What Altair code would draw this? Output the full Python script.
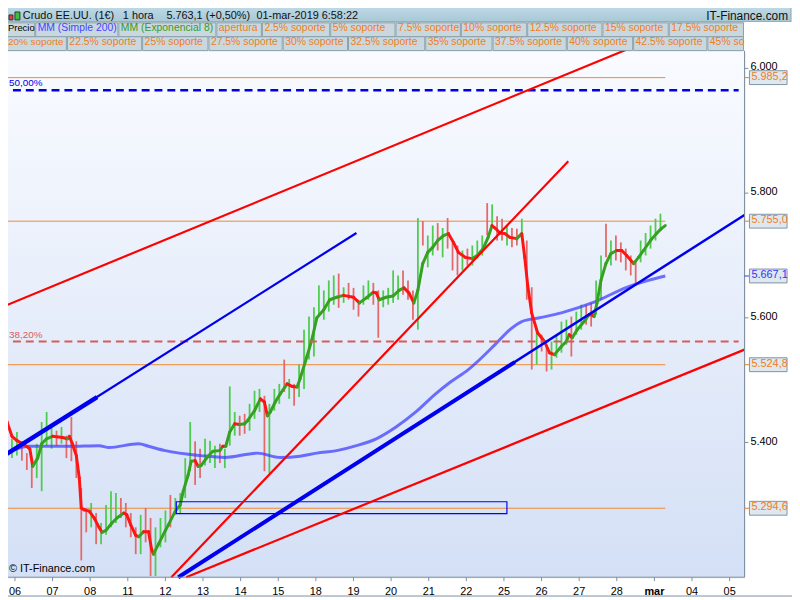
import altair as alt
import pandas as pd

FONT = "Liberation Sans"
AX = "#7d8fa0"

# ---------------- data ----------------
day_labels = ["06", "07", "08", "11", "12", "13", "14", "15", "18", "19", "20",
              "21", "22", "25", "26", "27", "28", "mar", "04", "05"]
price_ticks = [5400, 5600, 5800, 6000]
x_domain = [-0.395, 19.395]
y_domain = [5184, 6027]

# EMA(8) path (t in trading days from the 06 session, price)
ema_t = [-0.395, -0.211, -0.079, 0.053, 0.211, 0.395, 0.474, 0.605, 0.711, 0.842, 1.0, 1.263, 1.395, 1.447, 1.526,
         1.632, 1.711, 1.763, 1.842, 1.974, 2.105, 2.237, 2.316, 2.421, 2.579, 2.711, 2.895, 2.974, 3.079, 3.211,
         3.289, 3.421, 3.553, 3.632, 3.684, 3.816, 4.0, 4.079, 4.263, 4.395, 4.474, 4.605, 4.684, 4.789, 4.868,
         4.947, 5.132, 5.263, 5.447, 5.526, 5.605, 5.711, 5.842, 5.974, 6.105, 6.184, 6.368, 6.526, 6.632, 6.711,
         6.789, 6.921, 7.053, 7.237, 7.368, 7.5, 7.579, 7.763, 7.895, 8.026, 8.211, 8.368, 8.553, 8.737, 9.0,
         9.158, 9.342, 9.526, 9.605, 9.684, 9.868, 10.053, 10.211, 10.342, 10.474, 10.605, 10.711, 10.842, 10.974,
         11.105, 11.237, 11.395, 11.526, 11.658, 11.789, 11.974, 12.158, 12.289, 12.447, 12.579, 12.684, 12.763,
         12.895, 13.026, 13.158, 13.342, 13.474, 13.553, 13.632, 13.737, 13.895, 14.079, 14.211, 14.342, 14.526,
         14.658, 14.737, 14.816, 14.947, 15.132, 15.263, 15.342, 15.395, 15.474, 15.579, 15.711, 15.842, 16.0,
         16.132, 16.263, 16.447, 16.579, 16.711, 16.895, 17.053, 17.184, 17.289]
ema_p = [5465, 5433, 5410, 5403, 5398, 5390, 5362, 5375, 5398, 5406, 5410, 5408, 5406, 5410, 5398,
         5379, 5343, 5295, 5292, 5290, 5279, 5264, 5256, 5259, 5271, 5279, 5287, 5284, 5268, 5251,
         5249, 5257, 5257, 5229, 5221, 5237, 5259, 5268, 5290, 5300, 5322, 5348, 5370, 5371, 5362,
         5363, 5378, 5386, 5387, 5394, 5394, 5417, 5430, 5429, 5430, 5435, 5451, 5470, 5465, 5443,
         5449, 5465, 5478, 5494, 5490, 5489, 5502, 5538, 5565, 5600, 5613, 5629, 5633, 5636, 5633,
         5624, 5632, 5641, 5640, 5629, 5633, 5635, 5644, 5648, 5640, 5624, 5644, 5687, 5705,
         5713, 5724, 5732, 5735, 5721, 5705, 5697, 5695, 5700, 5711, 5729, 5748, 5744,
         5736, 5735, 5729, 5727, 5735, 5697, 5652, 5608, 5576, 5562, 5544, 5541, 5554,
         5562, 5573, 5568, 5581, 5594, 5605, 5605, 5602, 5624, 5660, 5687, 5703, 5708,
         5708, 5700, 5687, 5697, 5708, 5724, 5735, 5743, 5748]

# SMA(200)
sma_t = [-0.395, 0.395, 1.447, 2.237, 2.5, 3.289, 3.553, 4.0, 4.947, 5.579, 6.447, 7.053, 7.579, 8.026, 8.553,
         9.079, 9.605, 10.132, 10.658, 11.184, 11.579, 12.053, 12.763, 13.158, 13.474, 13.947, 14.526, 15.395,
         16.263, 16.842, 17.289]
sma_p = [5378, 5394, 5394, 5395, 5392, 5398, 5394, 5387, 5379, 5376, 5383, 5376, 5378, 5383, 5387,
         5395, 5406, 5425, 5449, 5478, 5497, 5517, 5557, 5581, 5594, 5600, 5608, 5625,
         5649, 5660, 5667.1]

# price bars (evenly spaced)
candle_t0 = -0.342
candle_dt = 0.1316
candle_high = [5465, 5422, 5406, 5417, 5402, 5383, 5375, 5398, 5433, 5449,
               5430, 5419, 5425, 5411, 5441, 5402, 5327, 5295, 5303, 5287,
               5271, 5300, 5322, 5319, 5311, 5303, 5287, 5264, 5284, 5295,
               5279, 5264, 5279, 5291, 5316, 5311, 5319, 5375, 5433, 5402,
               5390, 5406, 5403, 5395, 5398, 5390, 5490, 5449, 5443, 5446,
               5462, 5483, 5486, 5475, 5462, 5486, 5494, 5533, 5502, 5494,
               5525, 5581, 5602, 5617, 5652, 5644, 5660, 5668, 5671, 5649,
               5656, 5648, 5629, 5652, 5660, 5656, 5644, 5644, 5648, 5676,
               5668, 5676, 5660, 5644, 5760, 5755, 5732, 5748, 5752, 5744,
               5760, 5724, 5716, 5708, 5711, 5716, 5724, 5732, 5784, 5782,
               5763, 5759, 5748, 5744, 5743, 5759, 5724, 5649, 5581, 5573,
               5557, 5562, 5573, 5594, 5597, 5602, 5610, 5621, 5621, 5624,
               5660, 5700, 5751, 5724, 5732, 5721, 5711, 5700, 5692, 5724,
               5736, 5748, 5759, 5767]
candle_low = [5379, 5379, 5375, 5379, 5371, 5356, 5327, 5343, 5322, 5395,
              5390, 5395, 5398, 5375, 5370, 5343, 5211, 5256, 5264, 5237,
              5237, 5252, 5264, 5271, 5279, 5264, 5248, 5221, 5221, 5240,
              5186, 5186, 5232, 5240, 5264, 5284, 5287, 5311, 5354, 5332,
              5343, 5363, 5367, 5359, 5367, 5359, 5395, 5411, 5411, 5414,
              5419, 5438, 5449, 5354, 5351, 5451, 5462, 5481, 5470, 5459,
              5473, 5486, 5533, 5538, 5605, 5597, 5610, 5621, 5616, 5624,
              5629, 5613, 5602, 5621, 5629, 5621, 5568, 5617, 5621, 5624,
              5629, 5637, 5629, 5597, 5581, 5716, 5681, 5700, 5708, 5697,
              5711, 5676, 5668, 5676, 5684, 5684, 5695, 5700, 5732, 5748,
              5724, 5724, 5716, 5713, 5716, 5735, 5629, 5517, 5525, 5546,
              5514, 5517, 5536, 5544, 5557, 5538, 5573, 5581, 5589, 5586,
              5605, 5629, 5697, 5684, 5692, 5689, 5676, 5668, 5656, 5689,
              5700, 5711, 5724, 5740]
candle_dir = ("RRGGRRRGGG" "GRGRRRRRGR" "GGGGRRRRGR" "RGGGRGGGGR" "RGGGRGGGRR"
              "GGGRGGGRGR" "GGGGGGGGRG" "RRRGGRRGGG" "GRRRGRGGRG" "RRRGRGGGRG"
              "RRGRRGRRGR" "RGGGGRGGRR" "GGRGRRRRRG" "GGGG")

support_levels = [5985.2, 5755.0, 5524.8, 5294.6]
sma_last = 5667.1
levels_end_t = 17.29
fib_end_t = 19.24
fib_prices = [5965, 5562]
fib_labels = ["50,00%", "38,20%"]
fib_colors = ["#0000e6", "#d65c5c"]
fib_widths = [2.5, 2]

trend_t1 = [-0.395, 4.553, 4.158, -0.395, -0.395, 4.342, 4.342]
trend_p1 = [5616, 5184, 5184, 5375, 5375, 5184, 5184]
trend_t2 = [16.25, 19.395, 14.711, 9.079, 2.184, 19.395, 13.289]
trend_p2 = [6030, 5549, 5851, 5736, 5473, 5765, 5529]
trend_color = ["#ff0000", "#ff0000", "#ff0000", "#0000ee", "#0000ee", "#0000ee", "#0000ee"]
trend_width = [2.2, 2.2, 2.2, 2.2, 4.5, 2.5, 4.0]

zone_t = [4.289, 13.079]
zone_p = [5286, 5305]

title_parts = ["Crudo EE.UU. (1€)", "1 hora", "5.763,1 (+0,50%)", "01-mar-2019 6:58:22"]
row2_labels = ["Precio", "MM (Simple 200)", "MM (Exponencial 8)", "apertura", "2.5% soporte", "5% soporte",
               "7.5% soporte", "10% soporte", "12.5% soporte", "15% soporte", "17.5% soporte"]
row2_colors = ["#000000", "#4444ff", "#3a9a1c"] + ["#f07d1e"] * 8
row3_labels = ["20% soporte", "22.5% soporte", "25% soporte", "27.5% soporte", "30% soporte", "32.5% soporte",
               "35% soporte", "37.5% soporte", "40% soporte", "42.5% soporte", "45% soporte"]

# ---------------- layout (pixels) ----------------
PLOT_W, PLOT_H = 752, 531
row2_x0 = [0, 36, 120, 219, 265, 334, 400, 466, 533, 609, 676]
row2_x1 = [35, 119, 218, 264, 333, 399, 465, 532, 608, 675, 751]
row3_x0 = [0, 68, 144, 211, 286, 352, 430, 498, 573, 640, 715]
row3_x1 = [67, 143, 210, 285, 351, 429, 497, 572, 639, 714, 751]
row2_tx = [8, 38, 122, 221, 267, 336, 402, 468, 535, 611, 678]
row3_tx = [8, 70, 146, 213, 288, 354, 432, 500, 575, 642, 717]
row2_fs = [9.5] + [10.5] * 10
row3_fs = [10] + [10.5] * 10
title_x = [23, 124, 168, 259]
TXT_DY = -2

xs = alt.Scale(domain=x_domain, nice=False, zero=False)
ys = alt.Scale(domain=y_domain, nice=False, zero=False)


def XQ(f):
    return alt.X(f, type="quantitative", scale=xs, axis=None)


def YQ(f):
    return alt.Y(f, type="quantitative", scale=ys, axis=None)


def PX(f):
    return alt.X(f, type="quantitative", scale=None, axis=None)


def PY(f):
    return alt.Y(f, type="quantitative", scale=None, axis=None)


# background
bg_df = pd.DataFrame({"t": [x_domain[0]], "t2": [x_domain[1]], "p": [y_domain[0]], "p2": [y_domain[1]]})
grad = alt.LinearGradient(gradient="linear",
                          stops=[alt.GradientStop(color="#f9fbff", offset=0),
                                 alt.GradientStop(color="#d4e0f6", offset=1)],
                          x1=0, x2=0, y1=0, y2=1)
bg = alt.Chart(bg_df).mark_rect(color=grad).encode(x=XQ("t"), x2="t2:Q", y=YQ("p"), y2="p2:Q")

# support levels
lv_df = pd.DataFrame({"p": support_levels, "t": x_domain[0], "t2": levels_end_t})
levels = alt.Chart(lv_df).mark_rule(color="#f08a2a", strokeWidth=1).encode(
    x=XQ("t"), x2="t2:Q", y=YQ("p"))

# candles
cdf = pd.DataFrame({
    "t": [round(candle_t0 + i * candle_dt, 4) for i in range(len(candle_high))],
    "hi": candle_high, "lo": candle_low,
    "c": ["#4fcc4f" if d == "G" else "#e46a6a" for d in candle_dir]})
candles = alt.Chart(cdf).mark_rule(strokeWidth=1.8).encode(
    x=XQ("t"), y=YQ("hi"), y2="lo:Q", color=alt.Color("c:N", scale=None))

# SMA 200
sma = alt.Chart(pd.DataFrame({"t": sma_t, "p": sma_p})).mark_line(
    color="#3c3cff", strokeWidth=3, opacity=0.72, interpolate="monotone").encode(x=XQ("t"), y=YQ("p"))

# EMA 8 coloured by direction
seg = pd.DataFrame({"t": ema_t[:-1], "p": ema_p[:-1], "t2": ema_t[1:], "p2": ema_p[1:]})
seg["c"] = ["#36a020" if b > a else "#ff1414" for a, b in zip(ema_p[:-1], ema_p[1:])]
ema = alt.Chart(seg).mark_rule(strokeWidth=3, strokeCap="round").encode(
    x=XQ("t"), x2="t2:Q", y=YQ("p"), y2="p2:Q", color=alt.Color("c:N", scale=None))

# zone rectangle
zone = alt.Chart(pd.DataFrame({"t": [zone_t[0]], "t2": [zone_t[1]], "p": [zone_p[0]], "p2": [zone_p[1]]})).mark_rect(
    fill="#ffffff", fillOpacity=0, stroke="#0000ff", strokeWidth=1.2).encode(
    x=XQ("t"), x2="t2:Q", y=YQ("p"), y2="p2:Q")

# fibonacci dashed lines + labels
fib_df = pd.DataFrame({"p": fib_prices, "t": x_domain[0], "t2": fib_end_t, "c": fib_colors,
                       "w": fib_widths, "label": fib_labels, "tx": 9})
fib = alt.Chart(fib_df).mark_rule(strokeDash=[8, 5]).encode(
    x=XQ("t"), x2="t2:Q", y=YQ("p"), color=alt.Color("c:N", scale=None),
    strokeWidth=alt.StrokeWidth("w:Q", scale=None))
fib_txt = alt.Chart(fib_df).mark_text(align="left", baseline="bottom", dy=-2, font=FONT, fontSize=10).encode(
    x=PX("tx"), y=YQ("p"), text="label:N", color=alt.Color("c:N", scale=None))

# trend lines
tr_df = pd.DataFrame({"t": trend_t1, "p": trend_p1, "t2": trend_t2, "p2": trend_p2,
                      "c": trend_color, "w": trend_width})
trends = alt.Chart(tr_df).mark_rule().encode(
    x=XQ("t"), x2="t2:Q", y=YQ("p"), y2="p2:Q", color=alt.Color("c:N", scale=None),
    strokeWidth=alt.StrokeWidth("w:Q", scale=None))

# ---- hand-drawn axes ----
xt_df = pd.DataFrame({"t": list(range(len(day_labels))), "label": day_labels,
                      "w": ["bold" if d == "mar" else "normal" for d in day_labels],
                      "y0": PLOT_H, "y1": PLOT_H + 4, "ly": PLOT_H + 15})
x_ticks = alt.Chart(xt_df).mark_rule(color=AX, strokeWidth=1).encode(x=XQ("t"), y=PY("y0"), y2="y1:Q")
x_lab_n = alt.Chart(xt_df[xt_df.w == "normal"]).mark_text(
    align="center", baseline="middle", font=FONT, fontSize=11, color="#000000").encode(
    x=XQ("t"), y=PY("ly"), text="label:N")
x_lab_b = alt.Chart(xt_df[xt_df.w == "bold"]).mark_text(
    align="center", baseline="middle", font=FONT, fontSize=11, fontWeight="bold",
    color="#000000").encode(x=XQ("t"), y=PY("ly"), text="label:N")
x_line = alt.Chart(pd.DataFrame({"x0": [0], "x1": [PLOT_W], "y": [PLOT_H]})).mark_rule(
    color=AX, strokeWidth=1).encode(x=PX("x0"), x2="x1:Q", y=PY("y"))

yt_df = pd.DataFrame({"p": price_ticks, "label": [f"{v:,}".replace(",", ".") for v in price_ticks],
                      "k0": PLOT_W, "k1": PLOT_W + 4, "tx": PLOT_W + 6})
y_ticks = alt.Chart(yt_df).mark_rule(color=AX, strokeWidth=1).encode(x=PX("k0"), x2="k1:Q", y=YQ("p"))
y_lab = alt.Chart(yt_df).mark_text(align="left", baseline="middle", dy=TXT_DY + 1, font=FONT, fontSize=11,
                                   color="#000000").encode(x=PX("tx"), y=YQ("p"), text="label:N")
axline = alt.Chart(pd.DataFrame({"x": [PLOT_W], "y0": [-1], "y1": [PLOT_H]})).mark_rule(
    color=AX, strokeWidth=1).encode(x=PX("x"), y=PY("y0"), y2="y1:Q")


def fmt(v):
    return f"{v:,.1f}".replace(",", "X").replace(".", ",").replace("X", ".")


box_prices = support_levels + [sma_last]
box_colors = ["#f07d1e"] * 4 + ["#3434ff"]
half_box = 11.1
bdf = pd.DataFrame({"p": box_prices, "lo": [v - half_box for v in box_prices],
                    "hi": [v + half_box for v in box_prices], "label": [fmt(v) for v in box_prices],
                    "c": box_colors, "x0": 757, "x1": 795, "tx": 759, "k0": PLOT_W, "k1": 757})
bticks = alt.Chart(bdf).mark_rule(strokeWidth=1).encode(
    x=PX("k0"), x2="k1:Q", y=YQ("p"), color=alt.Color("c:N", scale=None))
boxes = alt.Chart(bdf).mark_rect(fill="#dfe7ef", stroke="#8094a4", strokeWidth=1).encode(
    x=PX("x0"), x2="x1:Q", y=YQ("lo"), y2="hi:Q")
btxt = alt.Chart(bdf).mark_text(align="left", baseline="middle", dy=TXT_DY + 1, font=FONT, fontSize=11).encode(
    x=PX("tx"), y=YQ("p"), text="label:N", color=alt.Color("c:N", scale=None))

# header
hgrad = alt.LinearGradient(gradient="linear",
                           stops=[alt.GradientStop(color="#c3dee9", offset=0),
                                  alt.GradientStop(color="#a8c8d6", offset=1)],
                           x1=0, x2=0, y1=0, y2=1)
h1 = alt.Chart(pd.DataFrame({"x0": [0], "x1": [799], "y0": [-49], "y1": [-30]})).mark_rect(
    color=hgrad, stroke="#8aa0aa", strokeWidth=1).encode(x=PX("x0"), x2="x1:Q", y=PY("y0"), y2="y1:Q")
cells = pd.DataFrame({
    "x0": row2_x0 + row3_x0, "x1": row2_x1 + row3_x1,
    "y0": [-29] * len(row2_x0) + [-15] * len(row3_x0),
    "y1": [-15] * len(row2_x0) + [-1] * len(row3_x0),
    "tx": row2_tx + row3_tx, "fs": row2_fs + row3_fs,
    "label": row2_labels + row3_labels,
    "c": row2_colors + ["#f07d1e"] * len(row3_labels)})
cells["ty"] = (cells["y0"] + cells["y1"]) / 2
cell_rects = alt.Chart(cells).mark_rect(fill="#c9d8df", stroke="#8aa0aa", strokeWidth=1).encode(
    x=PX("x0"), x2="x1:Q", y=PY("y0"), y2="y1:Q")
cell_txt = alt.Chart(cells).mark_text(align="left", baseline="middle", dy=TXT_DY, font=FONT).encode(
    x=PX("tx"), y=PY("ty"), text="label:N", color=alt.Color("c:N", scale=None),
    size=alt.Size("fs:Q", scale=None))
cover = alt.Chart(pd.DataFrame({"x0": [752], "x1": [800], "y0": [-30], "y1": [-1]})).mark_rect(
    color="#ffffff").encode(x=PX("x0"), x2="x1:Q", y=PY("y0"), y2="y1:Q")
title_df = pd.DataFrame({"label": title_parts, "x": title_x, "y": -34})
title_txt = alt.Chart(title_df).mark_text(align="left", baseline="middle", dy=TXT_DY, font=FONT, fontSize=11,
                                          color="#111111").encode(x=PX("x"), y=PY("y"), text="label:N")
brand = alt.Chart(pd.DataFrame({"label": ["IT-Finance.com"], "x": [796], "y": [-34]})).mark_text(
    align="right", baseline="middle", dy=TXT_DY, font=FONT, fontSize=12, color="#111111").encode(
    x=PX("x"), y=PY("y"), text="label:N")
icon_df = pd.DataFrame({"x0": [9, 15], "x1": [13, 20], "y0": [-37, -40], "y1": [-32, -32],
                        "c": ["#e04040", "#3cc03c"]})
icon = alt.Chart(icon_df).mark_rect(stroke="#333333", strokeWidth=1).encode(
    x=PX("x0"), x2="x1:Q", y=PY("y0"), y2="y1:Q", color=alt.Color("c:N", scale=None))

# footer
copy_txt = alt.Chart(pd.DataFrame({"label": ["© IT-Finance.com"], "x": [9], "y": [525]})).mark_text(
    align="left", baseline="middle", dy=TXT_DY, font=FONT, fontSize=11, color="#000000").encode(
    x=PX("x"), y=PY("y"), text="label:N")
bottom_line = alt.Chart(pd.DataFrame({"x0": [0], "x1": [800], "y": [550]})).mark_rule(
    color=AX, strokeWidth=1).encode(x=PX("x0"), x2="x1:Q", y=PY("y"))

chart = alt.layer(
    bg, levels, candles, sma, ema, zone, fib, fib_txt, trends,
    x_ticks, x_lab_n, x_lab_b, x_line, y_ticks, y_lab, axline,
    bticks, boxes, btxt,
    h1, cell_rects, cell_txt, cover, title_txt, brand, icon,
    copy_txt, bottom_line
).properties(
    width=PLOT_W, height=PLOT_H,
    padding={"left": -8, "top": 41, "right": 48, "bottom": 20},
    autosize=alt.AutoSizeParams(type="none"),
    background="#ffffff"
).configure_view(stroke=None).configure(font=FONT)

chart.save("out.html", embed_options={"renderer": "svg", "actions": False})
